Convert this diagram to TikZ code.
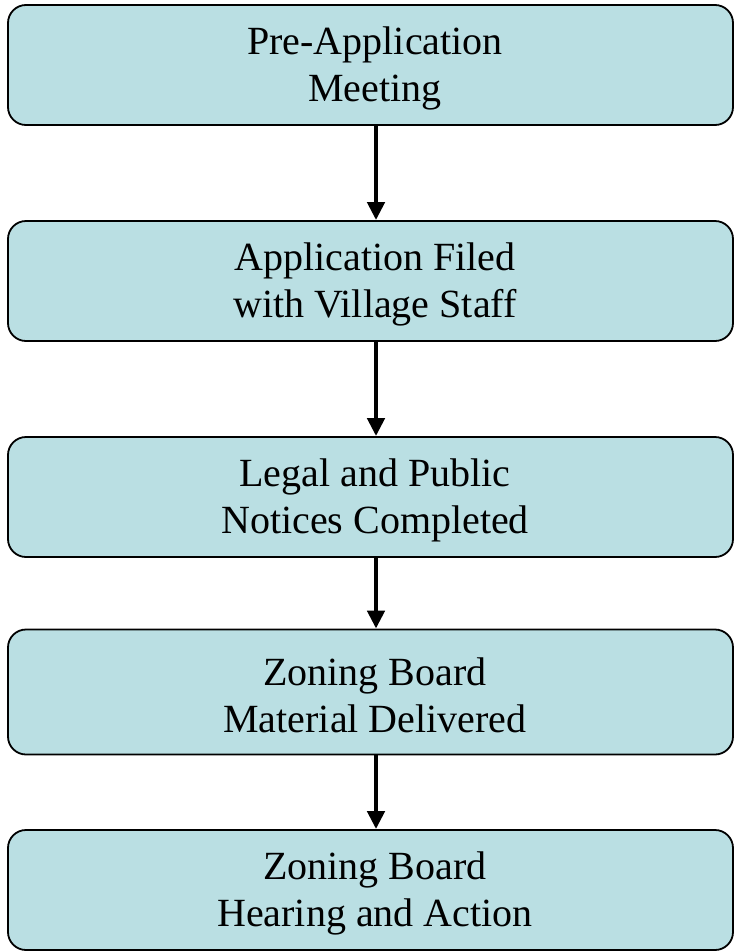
\documentclass[tikz,border=0pt]{standalone}
\usepackage{fontspec}
\setmainfont{Liberation Serif}
\usetikzlibrary{arrows.meta}
\definecolor{boxfill}{HTML}{BADFE3}
\begin{document}
\begin{tikzpicture}[x=1pt,y=1pt,
  stepbox/.style={draw=black, line width=1.8pt, fill=boxfill, rounded corners=18pt,
    minimum width=725pt, minimum height=120pt, inner sep=0pt},
  steptext/.style={align=center, inner sep=0pt, xshift=4.5pt, yshift=-3pt,
    font=\fontsize{40pt}{47pt}\selectfont},
  flow/.style={line width=4.7pt, -{Triangle[width=17pt,length=18pt]}}]
\useasboundingbox (0,0) rectangle (735,-951);
\node[stepbox] (b1) at (370.5,-65) {};
\node[stepbox] (b2) at (370.5,-281) {};
\node[stepbox] (b3) at (370.5,-497) {};
\node[stepbox, minimum height=125pt] (b4) at (370.5,-692) {};
\node[stepbox] (b5) at (370.5,-890) {};
\node[steptext] (t1) at (b1.center) {Pre-Application\\Meeting};
\node[steptext] (t2) at (b2.center) {Application Filed\\with Village Staff};
\node[steptext] (t3) at (b3.center) {Legal and Public\\Notices Completed};
\node[steptext] (t4) at (b4.center) {Zoning Board\\Material Delivered};
\node[steptext] (t5) at (b5.center) {Zoning Board\\Hearing and Action};
\draw[flow] ([xshift=5.5pt]b1.south) -- ([xshift=5.5pt]b2.north);
\draw[flow] ([xshift=5.5pt]b2.south) -- ([xshift=5.5pt]b3.north);
\draw[flow] ([xshift=5.5pt]b3.south) -- ([xshift=5.5pt]b4.north);
\draw[flow] ([xshift=5.5pt]b4.south) -- ([xshift=5.5pt]b5.north);
\end{tikzpicture}
\end{document}
